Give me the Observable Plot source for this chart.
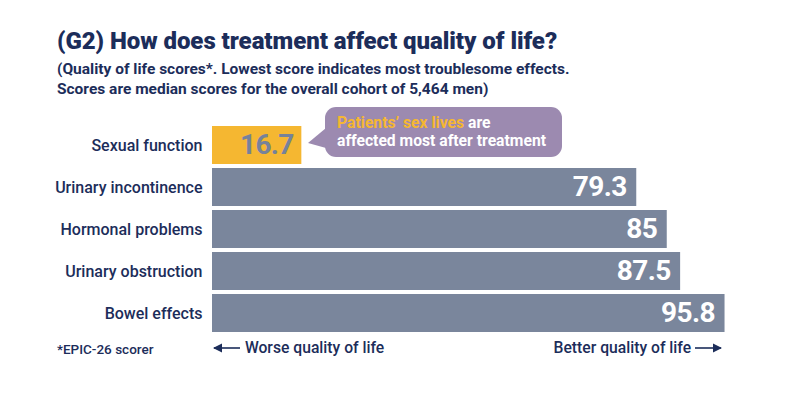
<!DOCTYPE html>
<html>
<head>
<meta charset="utf-8">
<script src="https://cdn.jsdelivr.net/npm/d3@7"></script>
<script src="https://cdn.jsdelivr.net/npm/@observablehq/plot@0.6"></script>
<style>
  html, body { margin: 0; padding: 0; background: #fff; }
  #wrap { position: relative; width: 788px; height: 398px; font-family: Roboto, sans-serif; color: #1c2d5a; overflow: hidden; }
  #chart { position: absolute; left: 0; top: 0; }
  .title { position: absolute; left: 57px; top: 27px; font-size: 24px; font-weight: 900; white-space: nowrap; letter-spacing: -0.05px; }
  .sub { position: absolute; left: 57px; top: 59px; font-size: 15.5px; font-weight: 700; line-height: 20px; white-space: nowrap; }
  .callout { position: absolute; left: 325px; top: 107px; width: 237px; height: 50px; background: #9c8ab0; border-radius: 11px; box-sizing: border-box; padding: 7px 0 0 12px; font-size: 15.7px; font-weight: 700; color: #fff; line-height: 18px; white-space: nowrap; }
  .callout .hl { color: #f5b731; }
  .pointer { position: absolute; left: 308px; top: 128px; }
  .foot { position: absolute; top: 339px; font-size: 15.7px; font-weight: 500; white-space: nowrap; line-height: 18px; }
  .note { position: absolute; left: 57px; top: 341px; font-size: 13.5px; font-weight: 500; white-space: nowrap; }
  .vals text { letter-spacing: -0.6px; }
</style>
</head>
<body>
<div id="wrap">
  <div id="chart"></div>
  <div class="title">(G2) How does treatment affect quality of life?</div>
  <div class="sub">(Quality of life scores*. Lowest score indicates most troublesome effects.<br>Scores are median scores for the overall cohort of 5,464 men)</div>
  <svg class="pointer" width="20" height="22"><path d="M0,15 L18,0 L18,20 Z" fill="#9c8ab0"/></svg>
  <div class="callout"><span class="hl">Patients’ sex lives</span> are<br>affected most after treatment</div>
  <div class="note">*EPIC-26 scorer</div>
  <div class="foot" style="left:213px;"><svg width="28" height="12" style="vertical-align:-1px"><path d="M1,6 L27,6" stroke="#1c2d5a" stroke-width="1.6"/><path d="M0,6 L9,1.5 L9,10.5 Z" fill="#1c2d5a"/></svg> Worse quality of life</div>
  <div class="foot" style="right:65px;">Better quality of life <svg width="28" height="12" style="vertical-align:-1px"><path d="M0,6 L26,6" stroke="#1c2d5a" stroke-width="1.6"/><path d="M27,6 L18,1.5 L18,10.5 Z" fill="#1c2d5a"/></svg></div>
</div>
<script>
const categories = ["Sexual function", "Urinary incontinence", "Hormonal problems", "Urinary obstruction", "Bowel effects"];
const scores = [16.7, 79.3, 85, 87.5, 95.8];
const highlight = "Sexual function";

const data = categories.map((c, i) => ({category: c, score: scores[i]}));
const hi = data.filter(d => d.category === highlight);
const rest = data.filter(d => d.category !== highlight);

const chart = Plot.plot({
  width: 788,
  height: 398,
  marginLeft: 212,
  marginRight: 41,
  marginTop: 125,
  marginBottom: 66,
  style: {fontFamily: "Roboto, sans-serif", color: "#1c2d5a", background: "transparent"},
  x: {domain: [0, 100], axis: null},
  y: {domain: categories, paddingInner: 0.1, paddingOuter: 0, axis: null},
  marks: [
    Plot.axisY({tickSize: 0, tickPadding: 10, fontSize: 16, fontWeight: 500, label: null}),
    Plot.barX(rest, {x: "score", y: "category", fill: "#7a869c"}),
    Plot.barX(hi, {x: "score", y: "category", fill: "#f5b731"}),
    Plot.text(rest, {x: "score", y: "category", text: d => String(d.score), textAnchor: "end", dx: -10, fill: "#ffffff", fontSize: 28, fontWeight: 700, className: "vals"}),
    Plot.text(hi, {x: "score", y: "category", text: d => String(d.score), textAnchor: "end", dx: -8, fill: "#76829a", fontSize: 28, fontWeight: 700, className: "vals"})
  ]
});
document.getElementById("chart").appendChild(chart);
</script>
</body>
</html>
